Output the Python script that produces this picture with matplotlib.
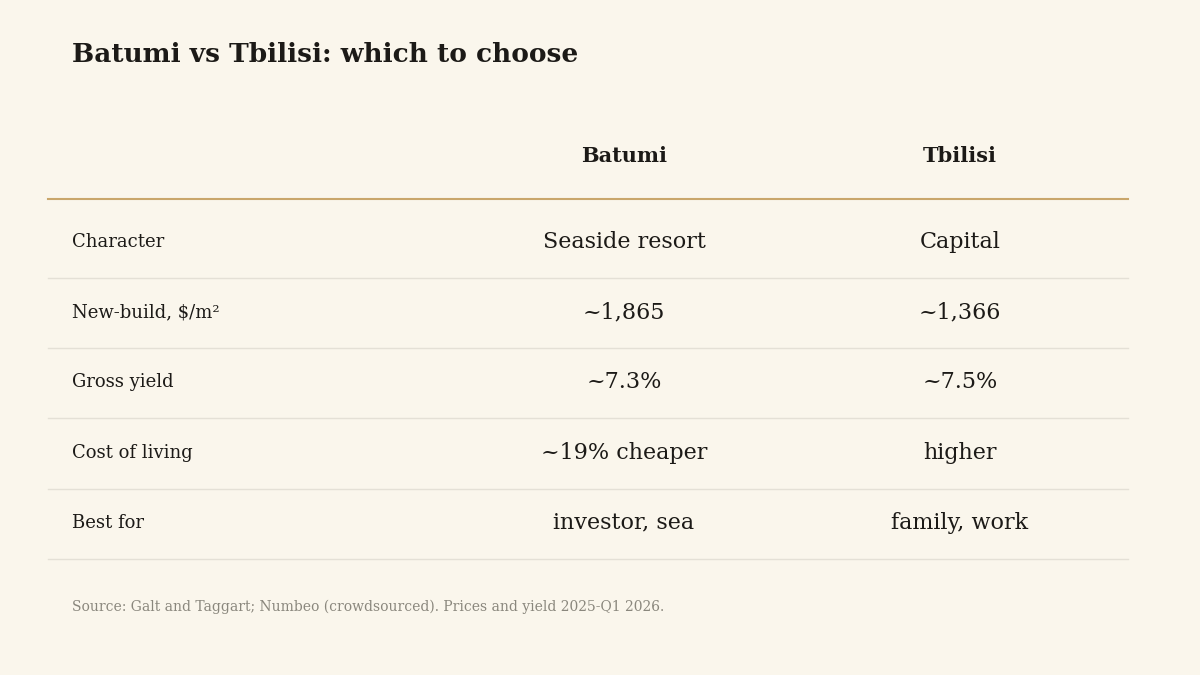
import matplotlib
matplotlib.use("Agg")
import matplotlib.pyplot as plt

# ── Table data ────────────────────────────────────────────
TITLE = "Batumi vs Tbilisi: which to choose"
COLUMNS = ["Batumi", "Tbilisi"]
ROW_LABELS = ["Character", "New-build, $/m²", "Gross yield", "Cost of living", "Best for"]
BATUMI = ["Seaside resort", "~1,865", "~7.3%", "~19% cheaper", "investor, sea"]
TBILISI = ["Capital", "~1,366", "~7.5%", "higher", "family, work"]
SOURCE = "Source: Galt and Taggart; Numbeo (crowdsourced). Prices and yield 2025-Q1 2026."

BG = "#faf6ec"
INK = "#1c1a17"
GOLD = "#c9a66b"
RULE = "#e4e0d6"

plt.rcParams["font.family"] = ["DejaVu Serif"]

W, H = 1200, 675
fig = plt.figure(figsize=(12, 6.75), dpi=100)
fig.patch.set_facecolor(BG)
ax = fig.add_axes([0, 0, 1, 1])
ax.set_xlim(0, W)
ax.set_ylim(H, 0)
ax.axis("off")

ax.text(72, 54, TITLE, fontsize=19, fontweight="bold", color=INK, va="center", ha="left")

col_x = [624, 960]
for x, name in zip(col_x, COLUMNS):
    ax.text(x, 156, name, fontsize=15, fontweight="bold", color=INK, ha="center", va="center")
ax.plot([48, 1128], [199, 199], color=GOLD, lw=1.5)

row_y0, row_h = 242, 70.2
for i, (lab, b, t) in enumerate(zip(ROW_LABELS, BATUMI, TBILISI)):
    y = row_y0 + i * row_h
    ax.text(72, y, lab, fontsize=13, color=INK, ha="left", va="center")
    ax.text(col_x[0], y, b, fontsize=16, color=INK, ha="center", va="center")
    ax.text(col_x[1], y, t, fontsize=16, color=INK, ha="center", va="center")
    ax.plot([48, 1128], [y + 36, y + 36], color=RULE, lw=1)

ax.text(72, 607, SOURCE, fontsize=10, color="#8a877d", ha="left", va="center")

fig.savefig("out.png", dpi=100, facecolor=BG)
